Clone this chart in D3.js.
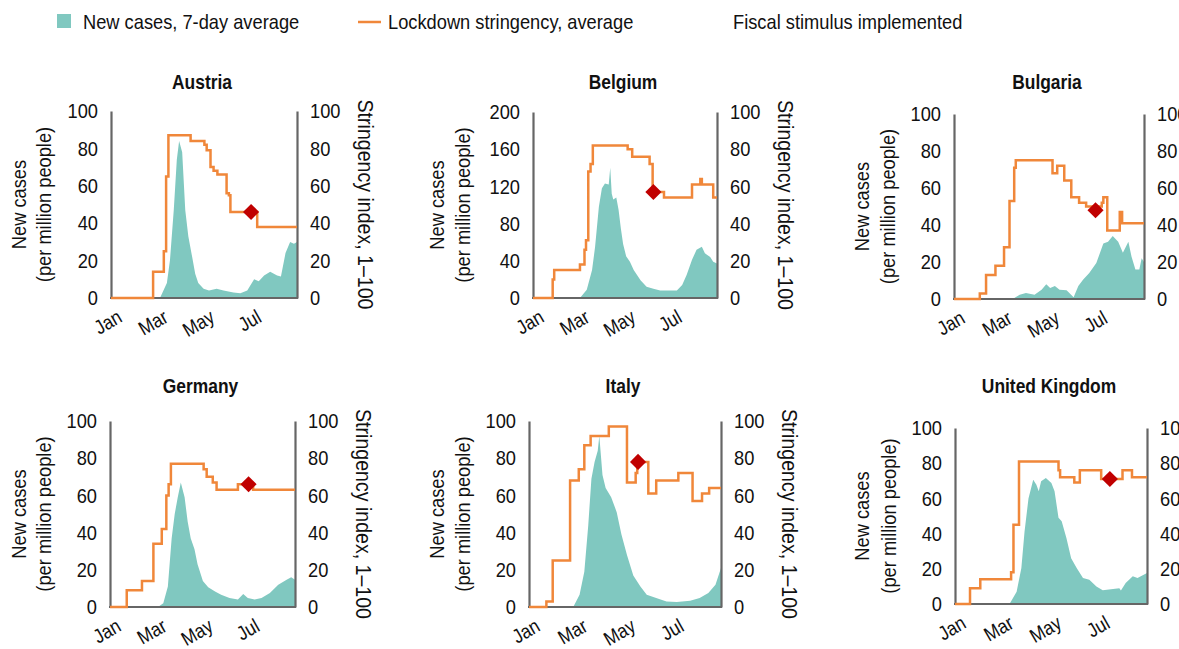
<!DOCTYPE html>
<html>
<head>
<meta charset="utf-8">
<script src="https://cdn.jsdelivr.net/npm/d3@7"></script>
<style>
  html, body { margin: 0; padding: 0; background: #fff; }
  svg { display: block; }
  text { font-family: 'Liberation Sans', Arial, sans-serif; fill: #111; }
</style>
</head>
<body>
<svg id="chart" width="1179" height="649"></svg>
<script>
// ---------------- DATA ----------------
const countries = ["Austria", "Belgium", "Bulgaria", "Germany", "Italy", "United Kingdom"];
const monthTicks = ["2020-01-01", "2020-03-01", "2020-05-01", "2020-07-01"];
const dateDomain = ["2020-01-01", "2020-08-31"];
const caseTicksDefault = [0, 20, 40, 60, 80, 100];
const caseTicksBelgium = [0, 40, 80, 120, 160, 200];
const stringencyTicks = [0, 20, 40, 60, 80, 100];
const legendLabels = ["New cases, 7-day average", "Lockdown stringency, average", "Fiscal stimulus implemented"];
const leftTitle = ["New cases", "(per million people)"];
const rightTitle = "Stringency index, 1–100";

const austriaCases = [["2020-03-05",0],["2020-03-14",8],["2020-03-18",20],["2020-03-23",47],["2020-03-27",74],["2020-03-30",84],["2020-04-03",78],["2020-04-07",47],["2020-04-11",33],["2020-04-16",22],["2020-04-20",13],["2020-04-24",8],["2020-05-01",5],["2020-05-08",4],["2020-05-18",5],["2020-05-27",4],["2020-06-09",3],["2020-06-18",2.5],["2020-06-27",4],["2020-07-06",10],["2020-07-12",9],["2020-07-19",12],["2020-07-27",14],["2020-08-05",12],["2020-08-10",11.5],["2020-08-16",24],["2020-08-22",30],["2020-08-27",29],["2020-08-31",30]];
const austriaStringency = [["2020-01-01",0],["2020-02-25",14],["2020-03-10",25],["2020-03-13",65],["2020-03-16",87],["2020-04-14",84],["2020-05-02",82],["2020-05-05",79],["2020-05-10",70],["2020-05-14",68],["2020-05-19",66],["2020-05-31",56],["2020-06-03",55],["2020-06-05",46],["2020-07-10",38],["2020-08-31",38]];

const belgiumCases = [["2020-03-03",0],["2020-03-12",9],["2020-03-19",30],["2020-03-23",55],["2020-03-28",98],["2020-04-01",118],["2020-04-05",123],["2020-04-10",122],["2020-04-12",140],["2020-04-14",112],["2020-04-16",106],["2020-04-20",108],["2020-04-23",95],["2020-04-26",75],["2020-04-29",58],["2020-05-03",45],["2020-05-08",39],["2020-05-13",30],["2020-05-22",19],["2020-05-30",12],["2020-06-08",10],["2020-06-17",8],["2020-06-26",8],["2020-07-09",8],["2020-07-16",14],["2020-07-22",25],["2020-07-29",41],["2020-08-04",52],["2020-08-11",55],["2020-08-15",48],["2020-08-22",44],["2020-08-26",39],["2020-08-31",37]];
const belgiumStringency = [["2020-01-01",0],["2020-01-27",10],["2020-01-29",15],["2020-03-03",18],["2020-03-09",26],["2020-03-11",31],["2020-03-14",68],["2020-03-17",72],["2020-03-20",82],["2020-05-05",80],["2020-05-11",76],["2020-06-03",72],["2020-06-07",57],["2020-06-22",54],["2020-07-29",61],["2020-08-09",64],["2020-08-11",61],["2020-08-26",54],["2020-08-31",54]];

const bulgariaCases = [["2020-03-16",0],["2020-03-25",2.3],["2020-04-02",3.2],["2020-04-13",2.3],["2020-04-22",5],["2020-04-28",8],["2020-05-03",6],["2020-05-09",7],["2020-05-15",5],["2020-05-24",4.7],["2020-06-02",1],["2020-06-08",7],["2020-06-14",10.4],["2020-06-22",14],["2020-07-01",19.4],["2020-07-10",30],["2020-07-16",31],["2020-07-22",34],["2020-07-29",31],["2020-08-04",25],["2020-08-11",31],["2020-08-15",23],["2020-08-20",16],["2020-08-25",16],["2020-08-28",22],["2020-08-31",20]];
const bulgariaStringency = [["2020-01-01",0],["2020-02-03",3],["2020-02-11",13],["2020-02-23",18],["2020-03-05",28],["2020-03-12",53],["2020-03-18",71],["2020-03-20",75],["2020-05-06",68],["2020-05-12",72],["2020-05-21",64],["2020-05-30",55],["2020-06-09",52],["2020-06-18",50],["2020-07-08",52],["2020-07-10",55],["2020-07-15",37],["2020-07-31",47],["2020-08-03",41],["2020-08-31",41]];

const germanyCases = [["2020-03-04",0],["2020-03-11",2],["2020-03-17",11],["2020-03-22",37],["2020-03-26",50],["2020-03-30",59],["2020-04-03",67],["2020-04-08",59],["2020-04-12",46],["2020-04-16",37],["2020-04-21",31],["2020-04-25",23],["2020-05-02",14],["2020-05-09",10.6],["2020-05-18",8.4],["2020-05-26",6.6],["2020-06-06",4.8],["2020-06-17",4],["2020-06-24",7],["2020-06-30",4.8],["2020-07-09",4],["2020-07-18",4.8],["2020-07-29",7.5],["2020-08-09",12],["2020-08-20",14.7],["2020-08-26",16],["2020-08-31",14.7]];
const germanyStringency = [["2020-01-01",0],["2020-01-23",9],["2020-02-12",14],["2020-02-27",34],["2020-03-09",42],["2020-03-15",60],["2020-03-18",66],["2020-03-21",77],["2020-05-03",74],["2020-05-07",70],["2020-05-15",67],["2020-05-20",63],["2020-06-17",66],["2020-07-07",63],["2020-08-31",63]];

const italyCases = [["2020-02-26",0],["2020-03-05",6.6],["2020-03-11",19],["2020-03-16",44],["2020-03-20",69],["2020-03-24",78],["2020-03-28",84],["2020-03-30",92],["2020-04-03",71],["2020-04-07",64],["2020-04-14",59],["2020-04-21",51],["2020-04-27",39],["2020-05-04",28],["2020-05-12",17],["2020-05-21",11],["2020-05-29",6.6],["2020-06-10",4.8],["2020-06-23",3],["2020-07-06",2.7],["2020-07-23",3.4],["2020-08-04",4.8],["2020-08-15",7.5],["2020-08-24",12],["2020-08-31",21]];
const italyStringency = [["2020-01-01",0],["2020-01-23",3],["2020-01-31",25],["2020-02-22",68],["2020-03-04",74],["2020-03-11",87],["2020-03-19",92],["2020-04-11",97],["2020-05-04",67],["2020-05-15",72],["2020-05-17",78],["2020-05-31",61],["2020-06-10",68],["2020-07-08",72],["2020-07-26",57],["2020-08-07",61],["2020-08-16",64],["2020-08-31",64]];

const ukCases = [["2020-03-10",0],["2020-03-19",7],["2020-03-25",20.5],["2020-03-29",41],["2020-04-03",60],["2020-04-09",70.6],["2020-04-13",67.8],["2020-04-16",64],["2020-04-19",69.7],["2020-04-25",71.6],["2020-05-02",68.8],["2020-05-06",64],["2020-05-11",49],["2020-05-15",47],["2020-05-21",37.5],["2020-05-27",26],["2020-06-03",20.5],["2020-06-11",14.8],["2020-06-19",13.8],["2020-06-28",10],["2020-07-06",7.8],["2020-07-19",8.5],["2020-07-27",9],["2020-07-29",7.6],["2020-08-04",12],["2020-08-13",15.7],["2020-08-19",14.8],["2020-08-31",17.6]];
const ukStringency = [["2020-01-01",0],["2020-01-20",9],["2020-02-02",14],["2020-03-12",18],["2020-03-15",45],["2020-03-22",81],["2020-05-11",76],["2020-05-13",72],["2020-05-31",69],["2020-06-07",76],["2020-07-04",71],["2020-07-31",76],["2020-08-12",72],["2020-08-31",72]];

const fiscalDates = ["2020-07-02", "2020-06-08", "2020-06-30", "2020-07-01", "2020-05-18", "2020-07-15"];
const fiscalValues = [46, 57, 48, 66, 78, 71];

const casesSeries = [austriaCases, belgiumCases, bulgariaCases, germanyCases, italyCases, ukCases];
const stringencySeries = [austriaStringency, belgiumStringency, bulgariaStringency, germanyStringency, italyStringency, ukStringency];

// ---------------- LAYOUT (positions only) ----------------
const layout = [
  {x0: 111, x1: 297, yTop: 111, yBot: 298, titleY: 89, leftOff: [92, 67]},
  {x0: 533, x1: 717, yTop: 112, yBot: 298, titleY: 89, leftOff: [96, 70]},
  {x0: 954, x1: 1144, yTop: 114, yBot: 299, titleY: 89, leftOff: [92, 66]},
  {x0: 110, x1: 295, yTop: 421, yBot: 607, titleY: 393, leftOff: [91, 66]},
  {x0: 529, x1: 721, yTop: 421, yBot: 607, titleY: 393, leftOff: [92, 66]},
  {x0: 955, x1: 1147, yTop: 428, yBot: 604, titleY: 393, leftOff: [93, 66]}
];

const COL_AREA = "#80c8c0";
const COL_LINE = "#f0873a";
const COL_DIAMOND = "#c00000";
const COL_AXIS = "#666666";
const W = 1179;
const K = 0.87; // horizontal condensing to mimic the condensed typeface

const parse = d3.timeParse("%Y-%m-%d");
const svg = d3.select("#chart");

function condense(sel) {
  sel.each(function () {
    const t = d3.select(this);
    const x = +t.attr("x") || 0, y = +t.attr("y") || 0;
    const prev = t.attr("transform") || "";
    t.attr("x", 0).attr("y", 0).attr("transform", `${prev} translate(${x},${y}) scale(${K},1)`);
  });
}
function addText(parent, x, y, str, size, extra) {
  const t = parent.append("text").attr("x", x).attr("y", y).attr("font-size", size).text(str);
  if (extra) extra(t);
  condense(t);
  return t;
}

// ---------------- LEGEND ----------------
const lg = svg.append("g");
lg.append("rect").attr("x", 57).attr("y", 14).attr("width", 14).attr("height", 14).attr("fill", COL_AREA);
addText(lg, 83, 29, legendLabels[0], 21);
lg.append("line").attr("x1", 358).attr("x2", 381).attr("y1", 22).attr("y2", 22)
  .attr("stroke", COL_LINE).attr("stroke-width", 2.5);
addText(lg, 388, 29, legendLabels[1], 21);
addText(lg, 733, 29, legendLabels[2], 21);

// ---------------- PANELS ----------------
countries.forEach((name, i) => {
  const p = layout[i];
  const g = svg.append("g");
  const caseTicks = name === "Belgium" ? caseTicksBelgium : caseTicksDefault;
  const caseMax = d3.max(caseTicks);

  const x = d3.scaleTime().domain(dateDomain.map(parse)).range([p.x0, p.x1]);
  const yL = d3.scaleLinear().domain([0, caseMax]).range([p.yBot, p.yTop]);
  const yR = d3.scaleLinear().domain([0, 100]).range([p.yBot, p.yTop]);

  // title
  addText(g, (p.x0 + p.x1) / 2 - 2, p.titleY, name, 20, t => t.attr("text-anchor", "middle").attr("font-weight", "bold"));

  // area
  const area = d3.area()
    .x(d => x(parse(d[0])))
    .y0(yL(0))
    .y1(d => yL(d[1]));
  g.append("path").datum(casesSeries[i]).attr("d", area).attr("fill", COL_AREA);

  // axes
  const axL = g.append("g").attr("transform", `translate(${p.x0},0)`)
    .call(d3.axisLeft(yL).tickValues(caseTicks).tickSize(0).tickSizeOuter(0).tickPadding(13));
  const axR = g.append("g").attr("transform", `translate(${p.x1},0)`)
    .call(d3.axisRight(yR).tickValues(stringencyTicks).tickSize(0).tickSizeOuter(0).tickPadding(13));
  const axB = g.append("g").attr("transform", `translate(0,${p.yBot})`)
    .call(d3.axisBottom(x).tickValues(monthTicks.map(parse)).tickFormat(d3.timeFormat("%b"))
      .tickSize(0).tickSizeOuter(0));
  [axL, axR, axB].forEach(a => {
    a.select(".domain").attr("stroke", COL_AXIS).attr("stroke-width", 2.2);
    a.selectAll("text").attr("font-size", 21).attr("font-family", null).attr("fill", "#111");
  });
  condense(axL.selectAll("text"));
  condense(axR.selectAll("text"));
  axB.select(".domain").attr("d", `M${p.x0 - 1},0H${p.x1 + 1}`);
  axB.selectAll("text")
    .attr("y", 0).attr("dy", 0).attr("x", 0)
    .attr("text-anchor", "end")
    .attr("font-size", 20)
    .attr("transform", "translate(12,23) rotate(-30)");
  condense(axB.selectAll("text"));

  // axis titles
  const yc = (p.yTop + p.yBot) / 2;
  leftTitle.forEach((t, k) => {
    g.append("text")
      .attr("transform", `translate(${p.x0 - p.leftOff[k]},${yc}) rotate(-90) scale(${K},1)`)
      .attr("text-anchor", "middle").attr("dominant-baseline", "central")
      .attr("font-size", 21).text(t);
  });
  const rx = p.x1 + 69;
  if (rx < W) {
    g.append("text")
      .attr("transform", `translate(${rx},${yc}) rotate(90) scale(${K},1)`)
      .attr("text-anchor", "middle").attr("dominant-baseline", "central")
      .attr("font-size", 22.5).text(rightTitle);
  }

  // stringency line
  const line = d3.line().curve(d3.curveStepAfter)
    .x(d => x(parse(d[0])))
    .y(d => yR(d[1]));
  g.append("path").datum(stringencySeries[i]).attr("d", line)
    .attr("fill", "none").attr("stroke", COL_LINE).attr("stroke-width", 2.5);

  // fiscal stimulus diamond
  g.append("path")
    .attr("d", d3.symbol().type(d3.symbolSquare).size(130)())
    .attr("transform", `translate(${x(parse(fiscalDates[i]))},${yR(fiscalValues[i])}) rotate(45)`)
    .attr("fill", COL_DIAMOND);
});
</script>
</body>
</html>
